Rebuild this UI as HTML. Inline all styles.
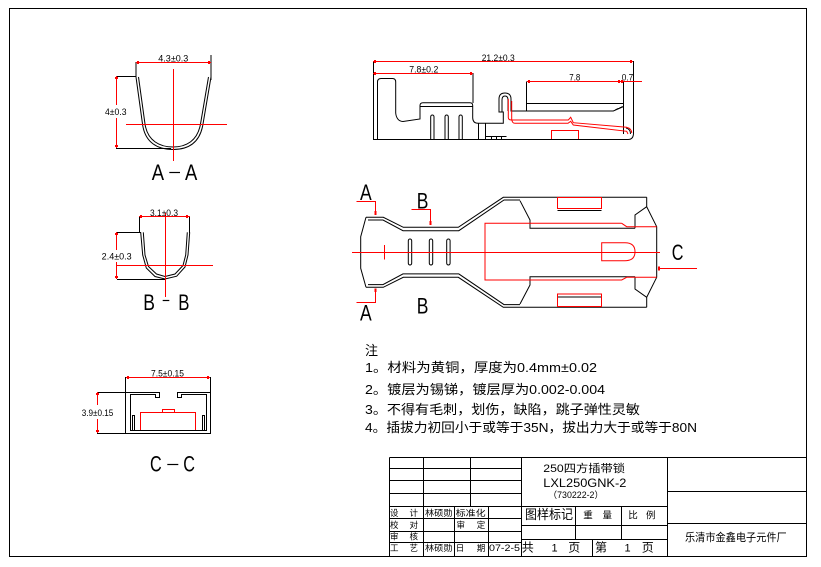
<!DOCTYPE html>
<html><head><meta charset="utf-8"><style>
html,body{margin:0;padding:0;background:#fff;width:821px;height:567px;overflow:hidden}
svg{display:block}
.t{font-family:"Liberation Sans","Noto Sans CJK SC",sans-serif;fill:#000}
.c{font-family:"Liberation Sans","Noto Sans CJK SC","WenQuanYi Zen Hei",sans-serif;fill:#000}
</style></head><body>
<svg width="821" height="567" viewBox="0 0 821 567" xmlns="http://www.w3.org/2000/svg">
<rect x="0" y="0" width="821" height="567" fill="#fff"/>
<!-- border and title block -->
<g fill="none" stroke="#000" stroke-width="1" shape-rendering="crispEdges">
<rect x="9.5" y="8.5" width="797" height="548"/>
<path d="M389.5,457.5 H806 M389.5,457.5 V556 M521.5,457.5 V556 M667.5,457.5 V556
M389.5,468.5 H521.5 M389.5,480.5 H521.5 M389.5,493.5 H521.5 M389.5,506.5 H667.5 M389.5,518.5 H521.5 M389.5,531.5 H521.5 M389.5,542.5 H521.5
M521.5,525.5 H667.5 M521.5,539.5 H667.5
M667.5,491.5 H806 M667.5,523.5 H806
M423.5,457.5 V556 M470.5,457.5 V506.5 M454.5,506.5 V556 M488.5,506.5 V556
M575.5,506.5 V539.5 M621.5,506.5 V539.5 M592.5,539.5 V556"/>
</g>

<!-- ===== A-A section ===== -->
<g fill="none" stroke="#000" stroke-width="1">
<path d="M136,77 L142.5,124 C145,143 158,149.5 173,149.5 C188,149.5 200,143 203,124 L211,77"/>
<path d="M138.5,77 L145,124 C147.5,141 160,147 173,147 C186,147 197.5,141 200.5,124 L208.5,77"/>
<path d="M136,62 V77 M211,55 V80 M116,76.5 H136 M116,148.5 H171" shape-rendering="crispEdges"/>
</g>
<g fill="none" stroke="#f00" stroke-width="1" shape-rendering="crispEdges">
<path d="M136,62.5 H211 M173.5,69 V161 M126,124.5 H227 M116.5,76 V105 M116.5,118 V148"/>
<path d="M138,61 V64 M209,61 V64 M115,78 H118 M115,146 H118" stroke-width="2"/>
</g>
<text class="t" x="158.3" y="61.5" font-size="9" textLength="30" lengthAdjust="spacingAndGlyphs">4.3±0.3</text>
<text class="t" x="105" y="115" font-size="9" textLength="21.5" lengthAdjust="spacingAndGlyphs">4±0.3</text>
<text class="t" x="151.7" y="180" font-size="22" textLength="12.3" lengthAdjust="spacingAndGlyphs">A</text>
<text class="t" x="185" y="180" font-size="22" textLength="12.3" lengthAdjust="spacingAndGlyphs">A</text>
<line x1="169.3" y1="172.5" x2="180" y2="172.5" stroke="#000" stroke-width="1.2"/>

<!-- ===== B-B section ===== -->
<g fill="none" stroke="#000" stroke-width="1">
<path d="M140.7,232.3 L142.7,255 L146.3,268 L155,276.5 L165,279 L176.7,276.2 L185,267 L188,255 L189.7,232.3"/>
<path d="M143.3,232.3 L145,255 L148.5,266.5 L156.5,274 L165,276.5 L175,274 L183,265.5 L185.7,255 L187.3,232.3"/>
<path d="M117,232.5 H141 M117,279.5 H165 M139.5,216 V233 M189.5,216 V233" shape-rendering="crispEdges"/>
</g>
<g fill="none" stroke="#f00" stroke-width="1" shape-rendering="crispEdges">
<path d="M139,216.5 H190 M165.5,213 V297 M117,265.5 H213 M116.5,232 V250 M116.5,262 V279"/>
<path d="M141,215 V218 M187,215 V218 M115,234 H118 M115,277 H118" stroke-width="2"/>
</g>
<text class="t" x="150" y="216" font-size="9" textLength="28" lengthAdjust="spacingAndGlyphs">3.1±0.3</text>
<text class="t" x="101.7" y="259.5" font-size="9" textLength="30" lengthAdjust="spacingAndGlyphs">2.4±0.3</text>
<text class="t" x="143.3" y="310" font-size="22" textLength="11.7" lengthAdjust="spacingAndGlyphs">B</text>
<text class="t" x="178.3" y="310" font-size="22" textLength="11.2" lengthAdjust="spacingAndGlyphs">B</text>
<line x1="162.7" y1="300.5" x2="169.3" y2="300.5" stroke="#000" stroke-width="1.2"/>

<!-- ===== C-C section ===== -->
<g fill="none" stroke="#000" stroke-width="1" shape-rendering="crispEdges">
<path d="M125.5,377 V433.5 H210.5 V377"/>
<path d="M125.5,392.5 H159.5 V397.5 H155.5 V394.5 H130.5 V430.5 H206.5 V394.5 H181.5 V397.5 H177.5 V392.5 H210.5"/>
<path d="M132.5,430 V415.5 H134.5 V430 M202.5,430 V415.5 H204.5 V430"/>
<path d="M97,392.5 H125 M97,433.5 H125"/>
</g>
<g fill="none" stroke="#f00" stroke-width="1" shape-rendering="crispEdges">
<path d="M140.5,430 V412.5 H195.5 V430 M162.5,412.5 V409.5 H174.5 V412.5"/>
<path d="M126,377.5 H210 M97.5,392 V405 M97.5,419 V433"/>
<path d="M128,376 V379 M208,376 V379 M96,394 H99 M96,431 H99" stroke-width="2"/>
</g>
<text class="t" x="151" y="376.5" font-size="9" textLength="33" lengthAdjust="spacingAndGlyphs">7.5±0.15</text>
<text class="t" x="81.7" y="416" font-size="9" textLength="31.6" lengthAdjust="spacingAndGlyphs">3.9±0.15</text>
<text class="t" x="150" y="471.7" font-size="22" textLength="11.7" lengthAdjust="spacingAndGlyphs">C</text>
<text class="t" x="183.3" y="471.7" font-size="22" textLength="11.7" lengthAdjust="spacingAndGlyphs">C</text>
<line x1="167.3" y1="464.5" x2="178.3" y2="464.5" stroke="#000" stroke-width="1.2"/>

<!-- ===== Side view ===== -->
<g fill="none" stroke="#000" stroke-width="1">
<path d="M373.5,61 V139.5 H628 Q633.5,139.5 633.5,133 V61" />
<path d="M377.5,139 V82 Q377.5,78.5 381,78.5 H392.5 Q395.7,78.5 395.7,82 V113 Q396.5,121 403,121.5 L420,119 V105.5 Q420,102.7 423,102.7 H470 Q472.7,102.7 472.7,105.5 V118 Q473,123.3 478,123.3 H503.3 V112 H499 V99 Q499,93 505,93 Q511,93 511,99 V111 H613.3 L623.3,106.7"/>
<path d="M502,112 V100 Q502,96 505,96 Q508,96 508,100 V111"/>
<path d="M420,106.5 H472.7 M473,73 V103 M526.5,81.7 V111 M526.7,103.5 H623.3 M623.5,81.7 V134 M615,110 L623,106.5" shape-rendering="crispEdges"/>
<path d="M478.5,123.3 V139 M485.5,123.3 V139 M485.5,136.5 H506.7 M491.5,136.5 V139 M496.5,136.5 V139 M501.5,136.5 V139" shape-rendering="crispEdges"/>
<path d="M430.7,139 V116.7 A1.65,1.65 0 0 1 434,116.7 V139"/>
<path d="M445,139 V116.7 A1.65,1.65 0 0 1 448.3,116.7 V139"/>
<path d="M459,139 V116.7 A1.65,1.65 0 0 1 462.3,116.7 V139"/>
<path d="M626,128 Q630.5,129 630.5,134"/>
</g>
<g fill="none" stroke="#f00" stroke-width="1">
<path d="M508.3,99 V117.5 Q508.3,120 511.7,120 H568.3 L570.7,117.3 L573.3,122.7 L626.7,127.3 Q631.7,128.5 631.7,133"/>
<path d="M511.7,101 V119 Q512,123.3 515,123.3 H568 L570.7,121.3 L573.3,125 L626.7,131.3 L628,134"/>
<path d="M551.7,139 V130.5 H578.3 V139" shape-rendering="crispEdges"/>
<path d="M373,61.5 H633 M373,73.5 H473 M527,81.5 H642" shape-rendering="crispEdges"/>
<path d="M375,60 V63 M631,60 V63 M375,72 V75 M471,72 V75 M529,80 V83 M619,80 V83 M622,80 V83" stroke-width="2" shape-rendering="crispEdges"/>
</g>
<text class="t" x="481.7" y="61" font-size="9" textLength="33" lengthAdjust="spacingAndGlyphs">21.2±0.3</text>
<text class="t" x="409.3" y="72.7" font-size="9" textLength="29" lengthAdjust="spacingAndGlyphs">7.8±0.2</text>
<text class="t" x="569.3" y="80.7" font-size="9" textLength="11" lengthAdjust="spacingAndGlyphs">7.8</text>
<text class="t" x="621.7" y="80.7" font-size="9" textLength="11.5" lengthAdjust="spacingAndGlyphs">0.7</text>

<!-- ===== Top view ===== -->
<g fill="none" stroke="#000" stroke-width="1">
<path d="M366,217.3 H383.3 L403.3,227.3 H458.3 L503.3,197.3 H646.7"/>
<path d="M368,220 H383 L403,230.7 H458.8 L504,200 H520"/>
<path d="M366,287.3 H383.3 L403.3,277.3 H458.3 L503.3,307.3 H646.7"/>
<path d="M368,284.6 H383 L403,273.9 H458.8 L504,304.6 H520"/>
<path d="M366,217.3 L360.7,236.7 V268.3 L366,287.3"/>
<path d="M646.7,197.3 V206.7 L656.7,226.7 V277.3 L646.7,297.3 V307.3"/>
<path d="M646.7,206.7 L635,215 V228.3 M635,276.7 V289 L646.7,297.3"/>
<path d="M520,200.7 L530,220 V228.3 H635 M520,304 L530,285 V276.7 H635"/>
<path d="M557.3,210.5 H601.7 M557.3,294 H601.7 M557.3,296.8 H601.7" shape-rendering="crispEdges"/>
<rect x="408.3" y="239" width="3.4" height="26" rx="1.7"/>
<rect x="429.3" y="239" width="3.4" height="26" rx="1.7"/>
<rect x="446.7" y="239" width="3.4" height="26" rx="1.7"/>
</g>
<g fill="none" stroke="#f00" stroke-width="1">
<path d="M352,252.5 H660 M384.5,245 V259.3 M658,268.5 H697" shape-rendering="crispEdges"/>
<path d="M621.7,223.3 H485 V280 H621.7 L626.7,277.3 H656.7 M621.7,223.3 L626.7,226.7 H656.7"/>
<rect x="557.3" y="197.3" width="44.4" height="11" shape-rendering="crispEdges"/>
<rect x="557.3" y="294" width="44.4" height="12.7" shape-rendering="crispEdges"/>
<path d="M601.7,242.7 H625 Q635,242.7 635,251.7 Q635,260.7 625,260.7 H601.7 Z"/>
<path d="M356.7,201.5 H375.5 V215 M356.7,302.5 H375.5 V288.3 M411.7,209.5 H430.5 V225" shape-rendering="crispEdges"/>
<path d="M375.5,211 V215 M375.5,288.3 V292 M430.5,221 V225 M659,266.5 V270.5" stroke-width="2" shape-rendering="crispEdges"/>
</g>
<text class="t" x="360" y="200" font-size="22" textLength="11.7" lengthAdjust="spacingAndGlyphs">A</text>
<text class="t" x="360" y="320.7" font-size="22" textLength="11.7" lengthAdjust="spacingAndGlyphs">A</text>
<text class="t" x="416.7" y="208.3" font-size="22" textLength="11.7" lengthAdjust="spacingAndGlyphs">B</text>
<text class="t" x="416.7" y="313.3" font-size="22" textLength="11.7" lengthAdjust="spacingAndGlyphs">B</text>
<text class="t" x="671.7" y="260" font-size="22" textLength="11.7" lengthAdjust="spacingAndGlyphs">C</text>

<!-- ===== Notes ===== -->
<text class="c" x="365" y="355" font-size="13">注</text>
<text class="c" x="365" y="372" font-size="13" textLength="232" lengthAdjust="spacingAndGlyphs">1。材料为黄铜，厚度为0.4mm±0.02</text>
<text class="c" x="365" y="394" font-size="13" textLength="240" lengthAdjust="spacingAndGlyphs">2。镀层为锡锑，镀层厚为0.002-0.004</text>
<text class="c" x="365" y="414" font-size="13" textLength="275" lengthAdjust="spacingAndGlyphs">3。不得有毛刺，划伤，缺陷，跳子弹性灵敏</text>
<text class="c" x="365" y="432" font-size="13" textLength="332" lengthAdjust="spacingAndGlyphs">4。插拔力初回小于或等于35N，拔出力大于或等于80N</text>

<!-- ===== Title block text ===== -->
<text class="c" x="543.3" y="472" font-size="11" textLength="81.7" lengthAdjust="spacingAndGlyphs">250四方插带锁</text>
<text class="c" x="543.3" y="487" font-size="11.5" textLength="83" lengthAdjust="spacingAndGlyphs">LXL250GNK-2</text>
<text class="c" x="548.3" y="498" font-size="9" textLength="55" lengthAdjust="spacingAndGlyphs">（730222-2）</text>
<text class="c" x="525" y="519" font-size="13" textLength="48" lengthAdjust="spacingAndGlyphs">图样标记</text>
<text class="c" x="583.3" y="518.5" font-size="9.5">重</text>
<text class="c" x="602.5" y="518.5" font-size="9.5">量</text>
<text class="c" x="628.3" y="518.5" font-size="9.5">比</text>
<text class="c" x="646" y="518.5" font-size="9.5">例</text>
<text class="c" x="521.7" y="551.5" font-size="12">共</text>
<text class="c" x="551.5" y="551.5" font-size="11">1</text>
<text class="c" x="568.3" y="551.5" font-size="12">页</text>
<text class="c" x="595" y="551.5" font-size="12">第</text>
<text class="c" x="624.5" y="551.5" font-size="11">1</text>
<text class="c" x="641.7" y="551.5" font-size="12">页</text>

<text class="c" x="390" y="516" font-size="8.5">设</text>
<text class="c" x="409.5" y="516" font-size="8.5">计</text>
<text class="c" x="390" y="528" font-size="8.5">校</text>
<text class="c" x="409.5" y="528" font-size="8.5">对</text>
<text class="c" x="390" y="539.5" font-size="8.5">审</text>
<text class="c" x="409.5" y="539.5" font-size="8.5">核</text>
<text class="c" x="390" y="551" font-size="8.5">工</text>
<text class="c" x="409.5" y="551" font-size="8.5">艺</text>
<text class="c" x="425" y="516" font-size="8.5" textLength="27.5" lengthAdjust="spacingAndGlyphs">林硕勋</text>
<text class="c" x="425" y="551" font-size="8.5" textLength="27.5" lengthAdjust="spacingAndGlyphs">林硕勋</text>
<text class="c" x="455.7" y="516" font-size="8.5" textLength="30" lengthAdjust="spacingAndGlyphs">标准化</text>
<text class="c" x="456.5" y="528" font-size="8.5">审</text>
<text class="c" x="476.7" y="528" font-size="8.5">定</text>
<text class="c" x="455.7" y="551" font-size="8.5">日</text>
<text class="c" x="476.7" y="551" font-size="8.5">期</text>
<text class="c" x="489" y="551" font-size="9.5" textLength="31" lengthAdjust="spacingAndGlyphs">07-2-5</text>
<text class="c" x="685" y="541" font-size="11" textLength="101.7" lengthAdjust="spacingAndGlyphs">乐清市金鑫电子元件厂</text>
</svg>
</body></html>
